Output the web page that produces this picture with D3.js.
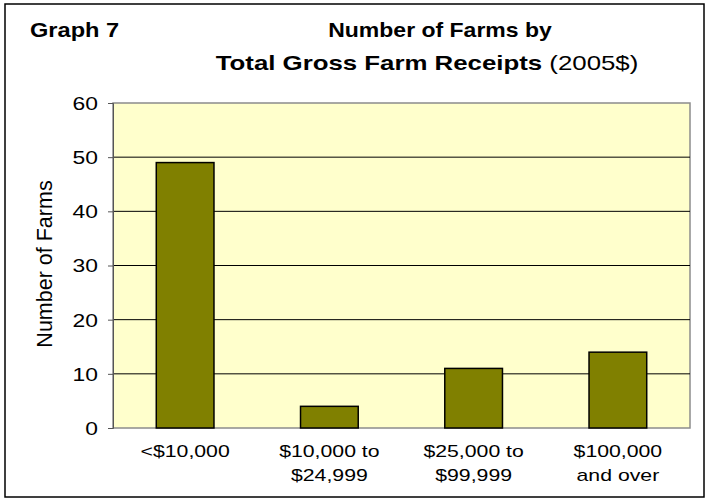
<!DOCTYPE html>
<html>
<head>
<meta charset="utf-8">
<script src="https://cdn.jsdelivr.net/npm/d3@7"></script>
<style>
  body { margin: 0; background: #fff; }
  text { font-family: "Liberation Sans", Arial, sans-serif; fill: #000; }
</style>
</head>
<body>
<div id="chart"></div>
<script>
// data
var categories = ['<$10,000', '$10,000 to|$24,999', '$25,000 to|$99,999', '$100,000|and over'];
var farms = [49, 4, 11, 14];
var yTicks = [0, 10, 20, 30, 40, 50, 60];

var width = 708,
    height = 499;

// plot area (don't call it "top", that's window.top)
var pl = 113, pr = 690, pt = 103, pb = 428;

var svg = d3.select('#chart')
  .append('svg')
    .attr('width', width)
    .attr('height', height);

// the original text looks a bit wide, so stretch it horizontally
function placeText(sel, x, y, sx) {
  sel.attr('x', 0).attr('y', 0)
    .attr('transform', 'translate(' + x + ',' + y + ') scale(' + sx + ',1)');
  return sel;
}

// outer frame
svg.append('rect')
  .attr('x', 5).attr('y', 4)
  .attr('width', 699).attr('height', 493)
  .attr('fill', '#fff')
  .attr('stroke', '#000')
  .attr('stroke-width', 1.5);

var x = d3.scaleBand()
  .domain(categories)
  .range([pl, pr])
  .paddingInner(0.6)
  .paddingOuter(0.3);

var y = d3.scaleLinear()
  .domain([0, 60])
  .range([pb, pt]);

// plot background
svg.append('rect')
  .attr('x', pl).attr('y', pt)
  .attr('width', pr - pl).attr('height', pb - pt)
  .attr('fill', '#ffffcc')
  .attr('stroke', '#8c8c8c')
  .attr('stroke-width', 1.5);

// gridlines
svg.append('g')
  .selectAll('line')
  .data(yTicks.filter(function(d){ return d > 0 && d < 60; }))
  .enter()
  .append('line')
    .attr('x1', pl).attr('x2', pr)
    .attr('y1', function(d){ return y(d); })
    .attr('y2', function(d){ return y(d); })
    .attr('stroke', '#000')
    .attr('stroke-width', 1);

// bars
svg.append('g')
  .selectAll('rect')
  .data(farms)
  .enter()
  .append('rect')
    .attr('x', function(d, i){ return x(categories[i]); })
    .attr('y', function(d){ return y(d); })
    .attr('width', x.bandwidth())
    .attr('height', function(d){ return y(0) - y(d); })
    .attr('fill', '#808000')
    .attr('stroke', '#000')
    .attr('stroke-width', 1.5);

// y axis
var yAxis = svg.append('g')
  .attr('transform', 'translate(' + pl + ',0)')
  .call(d3.axisLeft(y).tickValues(yTicks).tickSize(5));
yAxis.select('.domain').attr('stroke', '#555');
yAxis.selectAll('.tick line').attr('stroke', '#555');
yAxis.selectAll('.tick text')
  .style('font-size', '18px')
  .style('font-family', '"Liberation Sans", Arial, sans-serif')
  .attr('fill', '#000')
  .attr('x', 0)
  .attr('dy', '0.36em')
  .attr('transform', 'translate(-15,0) scale(1.27,1)');

// x labels (two lines)
svg.append('g')
  .selectAll('text')
  .data(categories)
  .enter()
  .append('text')
    .attr('text-anchor', 'middle')
    .style('font-size', '17px')
    .each(function(d){
      var t = d3.select(this);
      placeText(t, x(d) + x.bandwidth() / 2, 457, 1.25);
      d.split('|').forEach(function(s, i){
        t.append('tspan').attr('x', 0).attr('dy', i ? 24 : 0).text(s);
      });
    });

// axis title
svg.append('text')
  .attr('transform', 'translate(52,264) rotate(-90)')
  .attr('text-anchor', 'middle')
  .style('font-size', '21.5px')
  .text('Number of Farms');

// titles
placeText(svg.append('text'), 30, 37, 1.18)
  .style('font-size', '20px')
  .style('font-weight', 'bold')
  .text('Graph 7');

placeText(svg.append('text'), 440, 37, 1.15)
  .attr('text-anchor', 'middle')
  .style('font-size', '20px')
  .style('font-weight', 'bold')
  .text('Number of Farms by');

var t2 = placeText(svg.append('text'), 427, 70, 1.23)
  .attr('text-anchor', 'middle')
  .style('font-size', '21px');
t2.append('tspan').style('font-weight', 'bold').text('Total Gross Farm Receipts ');
t2.append('tspan').text('(2005$)');
</script>
</body>
</html>
